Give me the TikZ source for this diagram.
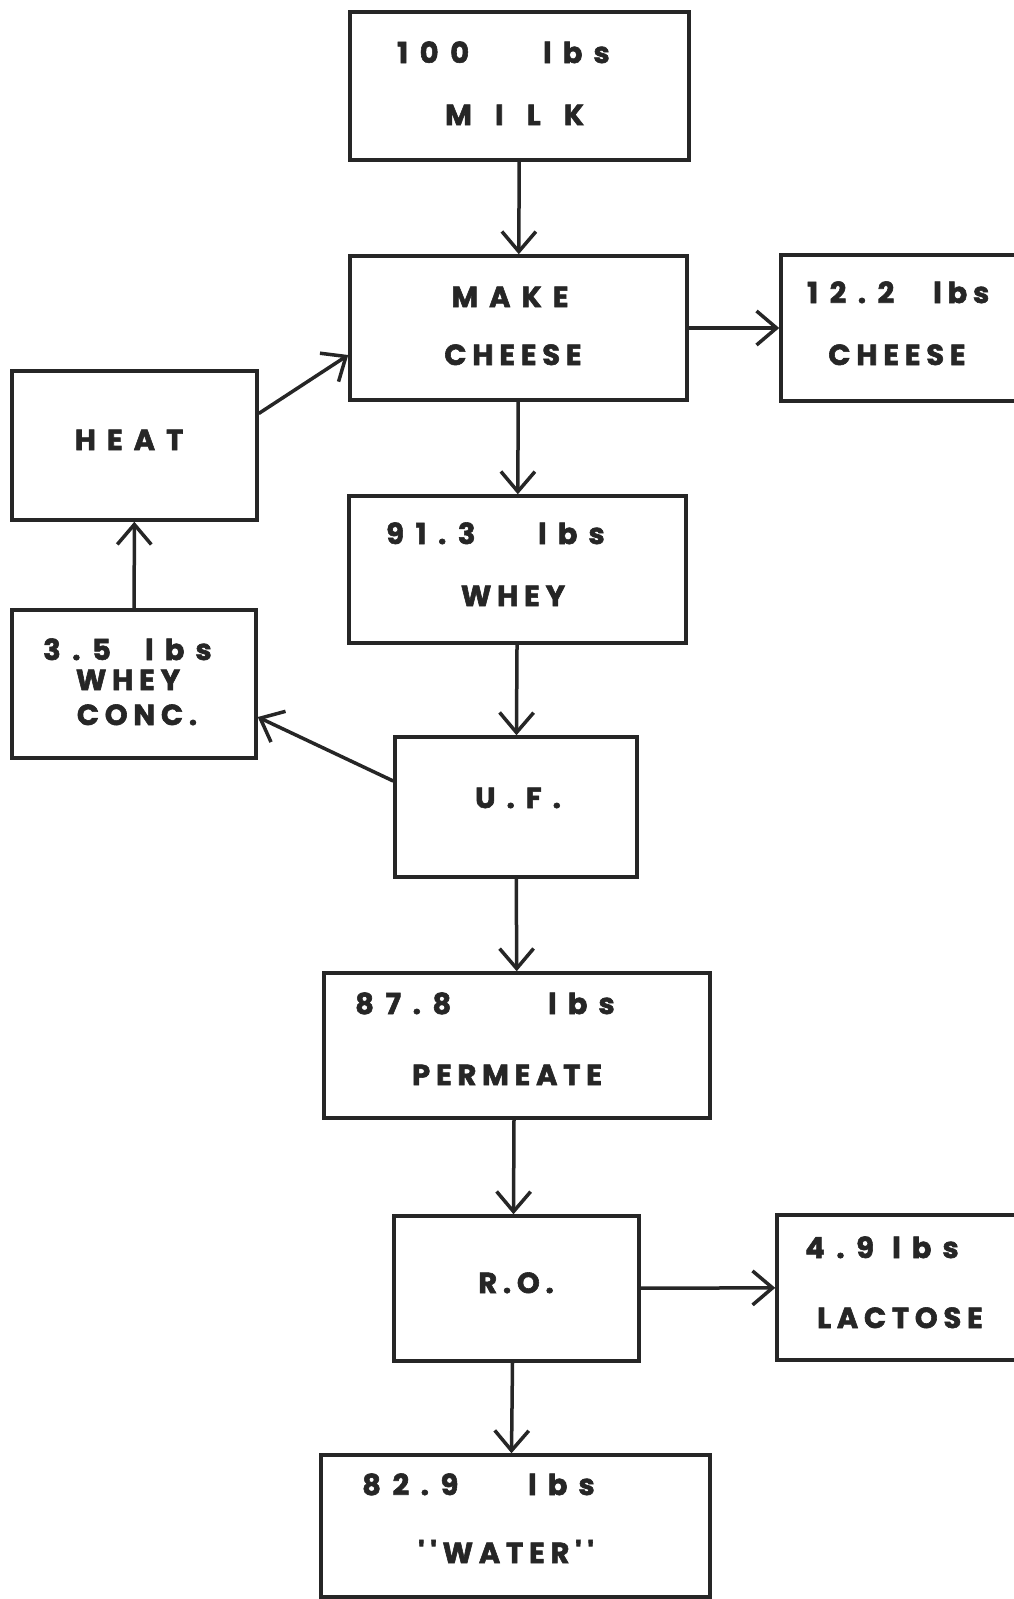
\documentclass[tikz,border=0pt]{standalone}
\usepackage{fontspec}
\usetikzlibrary{arrows.meta}
\newfontfamily\lbfont{Poppins}[LetterSpace=20, BoldFeatures={FakeBold=2}]
\newcommand{\lbsz}{\fontsize{29}{32}\selectfont}
\begin{document}
\begin{tikzpicture}[x=1pt,y=-1pt,
  box/.style={draw=black!85, line width=3.5pt, rectangle, inner sep=0pt},
  lbl/.style={font=\lbfont\bfseries\lbsz, text=black!85, inner sep=0pt, text height=20pt, text depth=0pt},
  wide/.style={font=\lbfont\bfseries\lbsz\addfontfeature{LetterSpace=80}},
  spaced/.style={font=\lbfont\bfseries\lbsz\addfontfeature{LetterSpace=38}},
  num/.style={font=\lbfont\bfseries\lbsz\addfontfeature{LetterSpace=40}},
  flow/.style={draw=black!85, line width=3.5pt, -{Straight Barb[length=20pt,width=34pt]}}]
\useasboundingbox (0,0) rectangle (1014,1599);
\clip (0,0) rectangle (1014,1599);
% boxes
\node[box, minimum width=339pt, minimum height=148pt] (milk) at (519.5,86) {};
\node[box, minimum width=337pt, minimum height=144pt] (make) at (518.5,328) {};
\node[box, minimum width=259pt, minimum height=146pt] (cheese) at (910.5,328) {};
\node[box, minimum width=245pt, minimum height=149pt] (heat) at (134.5,445.5) {};
\node[box, minimum width=337pt, minimum height=147pt] (whey) at (517.5,569.5) {};
\node[box, minimum width=244pt, minimum height=148pt] (conc) at (134,684) {};
\node[box, minimum width=242pt, minimum height=140pt] (uf) at (516,807) {};
\node[box, minimum width=386pt, minimum height=145pt] (perm) at (517,1045.5) {};
\node[box, minimum width=245pt, minimum height=145pt] (ro) at (516.5,1288.5) {};
\node[box, minimum width=263pt, minimum height=145pt] (lact) at (908.5,1287.5) {};
\node[box, minimum width=389pt, minimum height=142pt] (water) at (515.5,1526) {};
% texts
\node[lbl, num, anchor=west] (t1a) at (397,53) {100};
\node[lbl, spaced, anchor=west] (t1b) at (543,53) {lbs};
\node[lbl, wide, anchor=west] (t1c) at (445,115) {MILK};
\node[lbl, spaced] (t2a) at (510,297) {MAKE};
\node[lbl] (t2b) at (513,355) {CHEESE};
\node[lbl, num, anchor=west] (t3a) at (807,293) {12.2};
\node[lbl, anchor=west] (t3b) at (933,293) {lbs};
\node[lbl] (t3c) at (897,355) {CHEESE};
\node[lbl, spaced] (t4) at (129,440) {HEAT};
\node[lbl, num, anchor=west] (t5a) at (386,534) {91.3};
\node[lbl, spaced, anchor=west] (t5b) at (538,534) {lbs};
\node[lbl] (t5c) at (513,596) {WHEY};
\node[lbl, num, anchor=west] (t6a) at (43,650) {3.5};
\node[lbl, spaced, anchor=west] (t6b) at (145,650) {lbs};
\node[lbl] (t6c) at (128,680) {WHEY};
\node[lbl] (t6d) at (137,715) {CONC.};
\node[lbl, spaced] (t7) at (518,798) {U.F.};
\node[lbl, num, anchor=west] (t8a) at (355,1004) {87.8};
\node[lbl, spaced, anchor=west] (t8b) at (548,1004) {lbs};
\node[lbl] (t8c) at (507,1075) {PERMEATE};
\node[lbl] (t9) at (516,1283) {R.O.};
\node[lbl, num, anchor=west] (t10a) at (805,1248) {4.9};
\node[lbl, spaced, anchor=west] (t10b) at (892,1248) {lbs};
\node[lbl] (t10c) at (900,1318) {LACTOSE};
\node[lbl, num, anchor=west] (t11a) at (362,1485) {82.9};
\node[lbl, spaced, anchor=west] (t11b) at (528,1485) {lbs};
\node[lbl] (t11c) at (506,1553) {''WATER''};
% connectors
\draw[flow] (milk) -- (make);
\draw[flow] (make) -- (cheese);
\draw[flow] ([yshift=32pt]heat.east) -- ([yshift=-27pt]make.west);
\draw[flow] (make) -- (whey);
\draw[flow] (whey) -- (uf);
\draw[flow] ([yshift=26pt]uf.west) -- ([yshift=-33pt]conc.east);
\draw[flow] (conc) -- (heat);
\draw[flow] (uf) -- (perm);
\draw[flow] ([xshift=-3pt]perm.south) -- ([xshift=-3pt]ro.north);
\draw[flow] (ro) -- (lact);
\draw[flow] ([xshift=-4pt]ro.south) -- ([xshift=-4pt]water.north);
\end{tikzpicture}
\end{document}
